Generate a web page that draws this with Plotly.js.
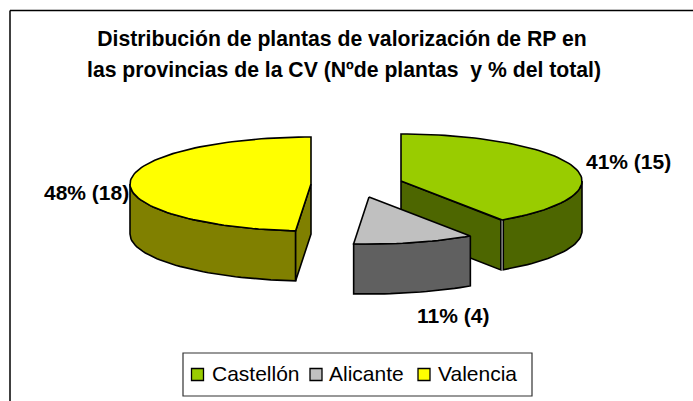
<!DOCTYPE html>
<html>
<head>
<meta charset="utf-8">
<script src="https://cdn.plot.ly/plotly-3.0.1.min.js"></script>
<style>html,body{margin:0;padding:0;background:#fff}</style>
</head>
<body>
<div id="chart" style="width:693px;height:401px"></div>
<script>
const categories = ['Castellón', 'Alicante', 'Valencia'];
const plantCounts = [15, 4, 18];
const percentLabels = [41, 11, 48];
const topColors = ['#99CC00', '#C0C0C0', '#FFFF00'];
const sideColors = ['#4D6600', '#606060', '#808000'];
const titleLines = ['Distribución de plantas de valorización de RP en',
                    'las provincias de la CV (Nºde plantas  y % del total)'];

const centers = [[401, 181], [369, 197], [311, 184]];
const rx = 181, ry = 47, depth = 50;
const labelPos = [[628, 161], [452.5, 315], [86, 192]];
const legendMarkers = [197.5, 316, 424];
const legendText = [210, 327, 436];

const total = plantCounts.reduce((a, b) => a + b, 0);
const pt = (c, deg, dy = 0) => {
  const r = deg * Math.PI / 180;
  return [c[0] + rx * Math.sin(r), c[1] - ry * Math.cos(r) + dy];
};
const arc = (c, a0, a1, dy = 0) => {
  const out = [];
  const n = Math.max(2, Math.ceil(Math.abs(a1 - a0) / 2));
  for (let i = 0; i <= n; i++) out.push(pt(c, a0 + (a1 - a0) * i / n, dy));
  return out;
};
const poly = (pts, fill, name) => ({
  type: 'scatter', mode: 'lines', x: pts.map(p => p[0]), y: pts.map(p => p[1]),
  fill: 'toself', fillcolor: fill, line: {color: '#000', width: 1.6},
  hoverinfo: 'text', text: name, showlegend: false
});

const traces = [];
let start = 0;
const spans = plantCounts.map(v => { const s = [start, start + v / total * 360]; start = s[1]; return s; });

const drawOrder = [0, 2, 1];
drawOrder.forEach(i => {
  const c = centers[i], a0 = spans[i][0], a1 = spans[i][1], nm = categories[i];
  const visA0 = Math.max(a0, 90), visA1 = Math.min(a1, 270);
  // outer rim wall (front half only)
  let wallEnd = visA1;
  if (i === 0) wallEnd = visA1 - 0.35;
  const topArc = arc(c, visA0, wallEnd);
  const botArc = arc(c, wallEnd, visA0, depth);
  traces.push(poly(topArc.concat(botArc, [topArc[0]]), sideColors[i], nm));
  // flat cut face that turns towards the viewer
  if (i === 0) {
    const e = pt(c, a1); e[0] -= 1.5;
    traces.push(poly([c, e, [e[0], e[1] + depth], [c[0], c[1] + depth], c], sideColors[i], nm));
  }
  if (i === 2) {
    const e = pt(c, a0);
    traces.push(poly([c, e, [e[0], e[1] + depth], [c[0], c[1] + depth], c], sideColors[i], nm));
  }
  // top face
  const top = arc(c, a0, a1);
  traces.push(poly([c].concat(top, [c]), topColors[i], nm));
});

// legend swatches
traces.push({
  type: 'scatter', mode: 'markers', x: legendMarkers, y: categories.map(() => 374.5),
  marker: {symbol: 'square', size: 12, color: topColors, line: {color: '#000', width: 1.3}},
  hoverinfo: 'text', text: categories, showlegend: false
});

const font = {family: '"Liberation Sans", Arial, sans-serif', color: '#000'};
const ann = (x, y, text, size, bold, anchor = 'center') => ({
  xref: 'x', yref: 'y', x, y, text: bold ? '<b>' + text + '</b>' : text, showarrow: false,
  xanchor: anchor, yanchor: 'middle', font: Object.assign({size}, font)
});
const annotations = [ann(343.7, 70, titleLines[1], 21.2, true)];
categories.forEach((n, i) => {
  annotations.push(ann(labelPos[i][0], labelPos[i][1], percentLabels[i] + '% (' + plantCounts[i] + ')', 21, true));
  annotations.push(ann(legendText[i], 373, n, 21, false, 'left'));
});

const layout = {
  width: 693, height: 401, margin: {l: 0, r: 0, t: 0, b: 0},
  paper_bgcolor: '#fff', plot_bgcolor: '#fff', showlegend: false,
  title: {text: '<b>' + titleLines[0] + '</b>', font: Object.assign({size: 21.2}, font),
          x: 342 / 693, xanchor: 'center', y: 1 - 38.5 / 401, yanchor: 'middle'},
  xaxis: {range: [0, 693], visible: false, fixedrange: true},
  yaxis: {range: [401, 0], visible: false, fixedrange: true},
  annotations,
  shapes: [
    {type: 'line', xref: 'x', yref: 'y', x0: 10, x1: 10, y0: 10.5, y1: 401, line: {color: '#000', width: 1.5}},
    {type: 'line', xref: 'x', yref: 'y', x0: 10, x1: 693, y0: 10.5, y1: 10.5, line: {color: '#000', width: 1.5}},
    {type: 'rect', xref: 'x', yref: 'y', x0: 183, x1: 532, y0: 353, y1: 396, line: {color: '#333', width: 1.2}, fillcolor: '#fff', layer: 'below'}
  ]
};
Plotly.newPlot('chart', traces, layout, {displayModeBar: false});
</script>
</body>
</html>
